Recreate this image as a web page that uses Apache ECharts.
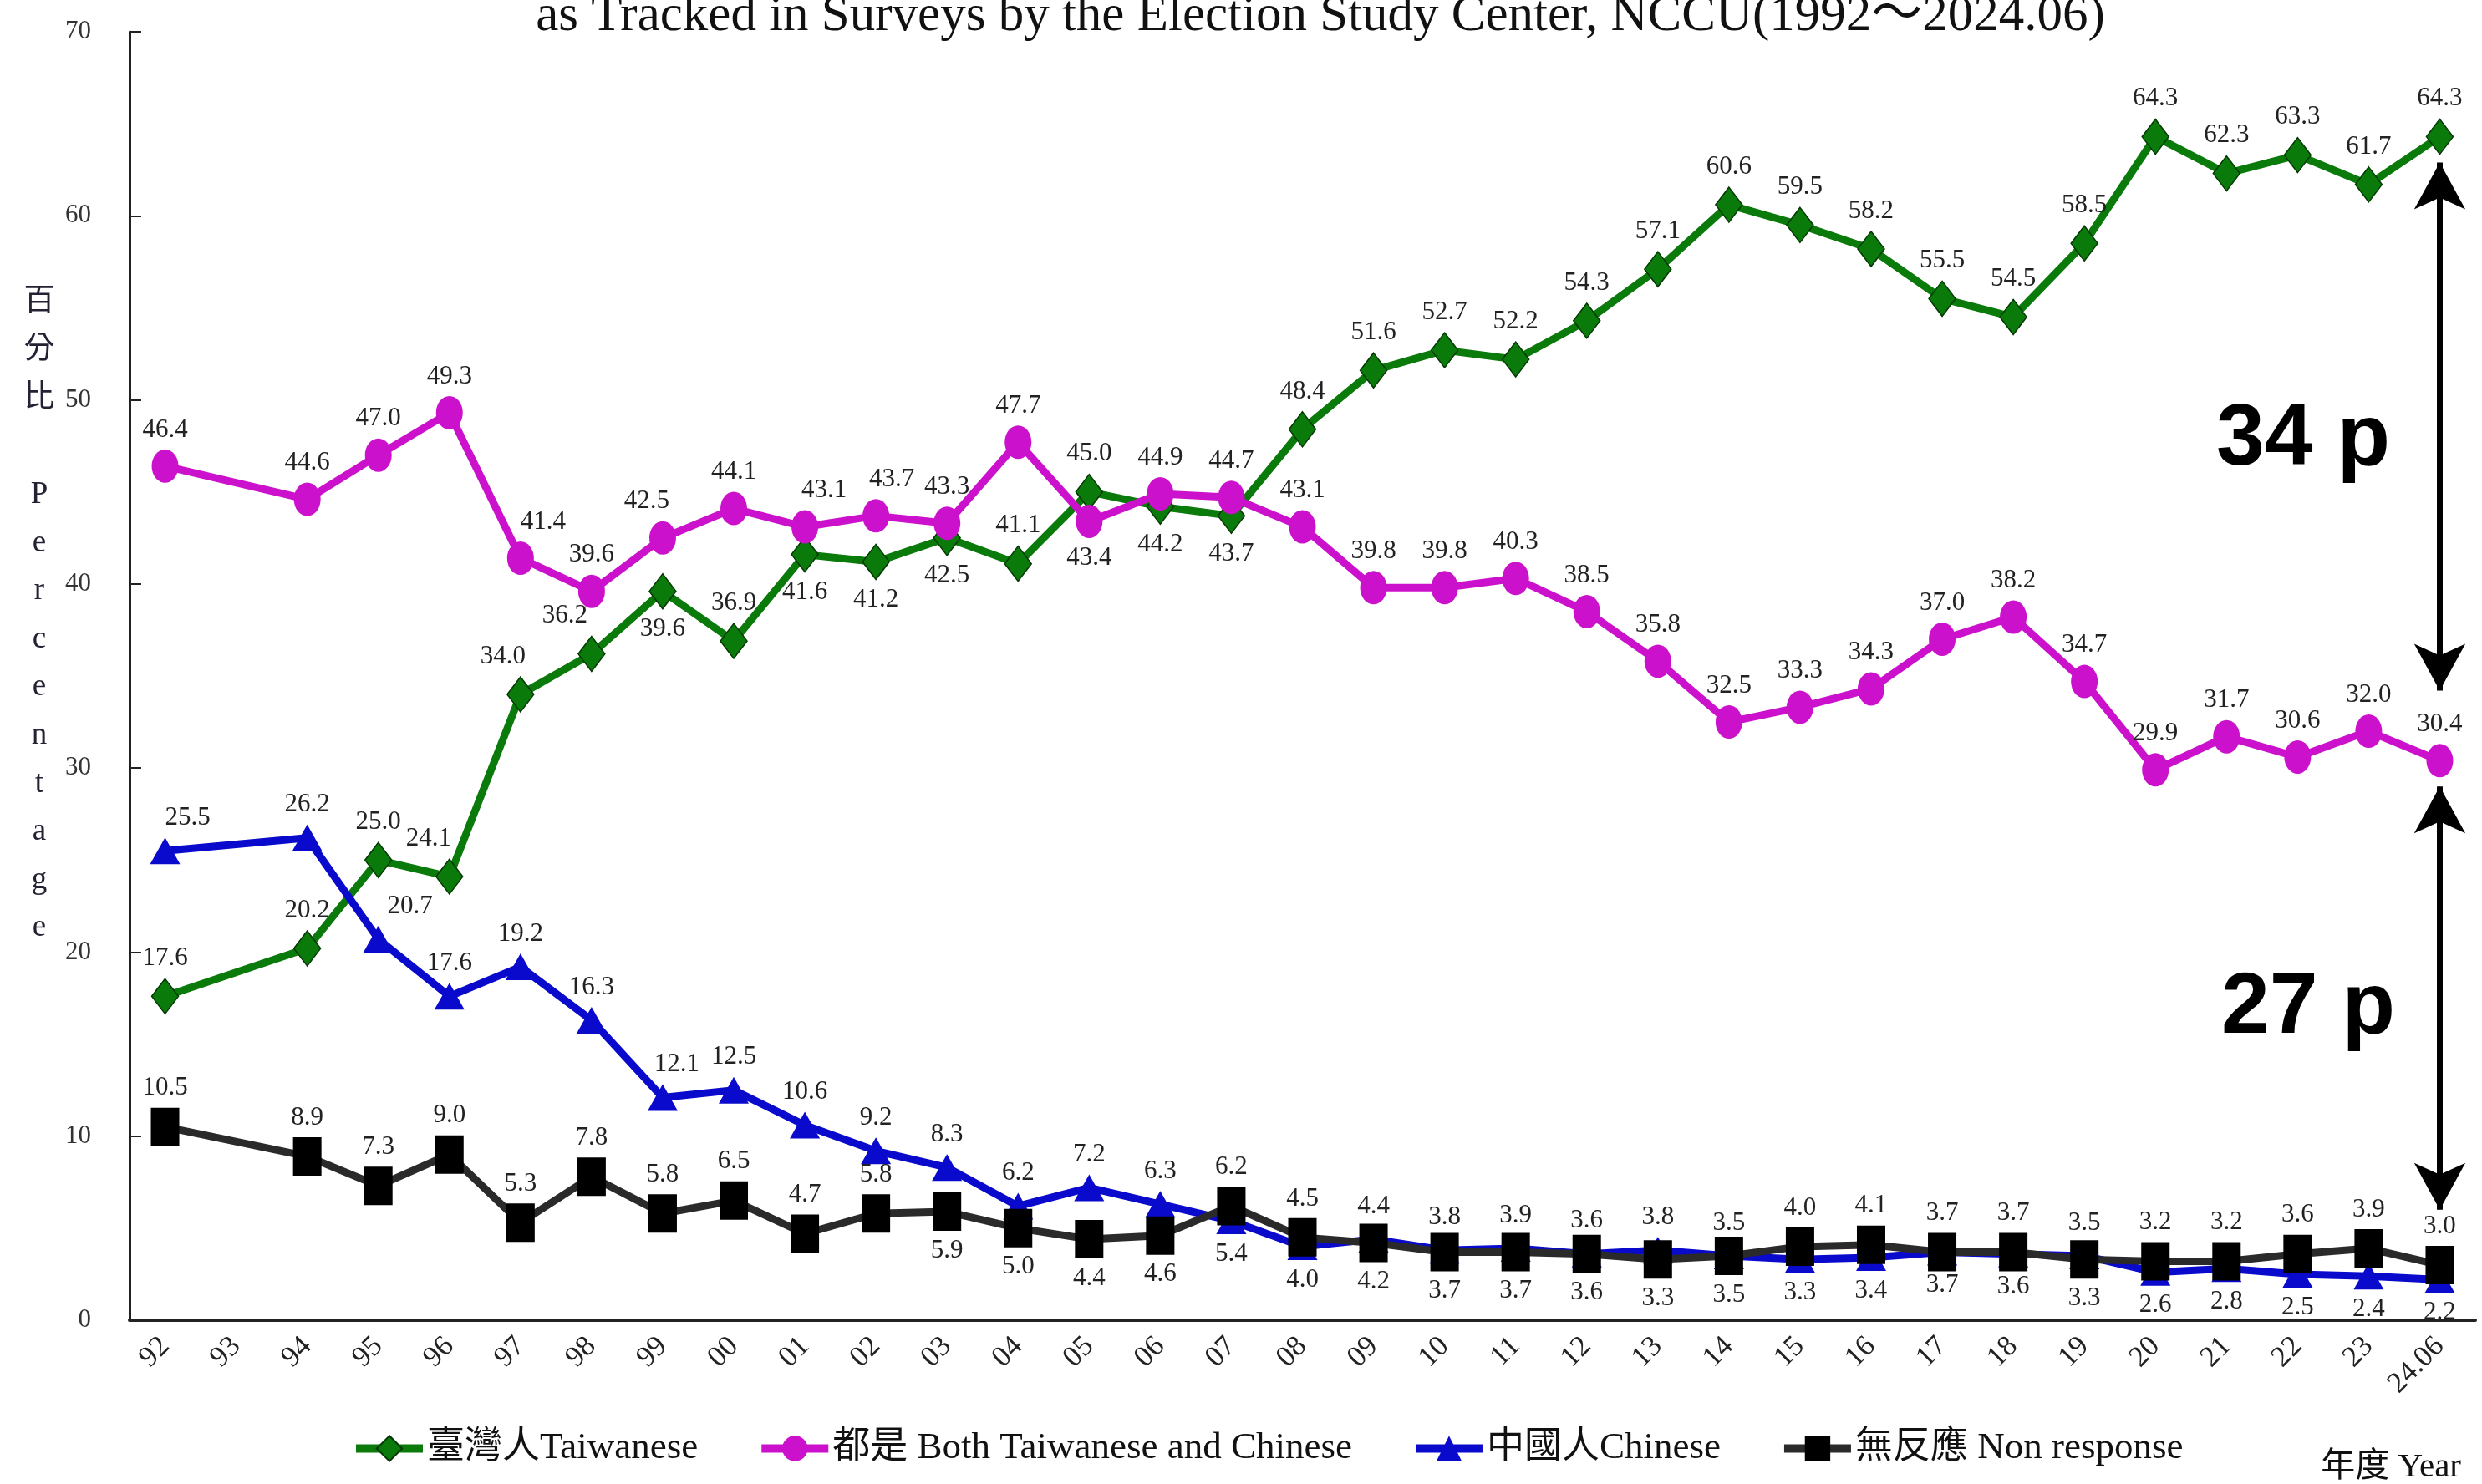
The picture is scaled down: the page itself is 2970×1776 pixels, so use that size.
<!DOCTYPE html>
<html>
<head>
<meta charset="utf-8">
<script src="https://cdn.jsdelivr.net/npm/echarts@6/dist/echarts.min.js"></script>
<style>
html,body{margin:0;padding:0;background:#fff;}
#chart{width:2970px;height:1776px;}
</style>
</head>
<body>
<div id="chart"></div>
<script>
const categories = ['92','93','94','95','96','97','98','99','00','01','02','03','04','05','06','07','08','09','10','11','12','13','14','15','16','17','18','19','20','21','22','23','24.06'];
const taiwanese = [17.6,null,20.2,25.0,24.1,34.0,36.2,39.6,36.9,41.6,41.2,42.5,41.1,45.0,44.2,43.7,48.4,51.6,52.7,52.2,54.3,57.1,60.6,59.5,58.2,55.5,54.5,58.5,64.3,62.3,63.3,61.7,64.3];
const both = [46.4,null,44.6,47.0,49.3,41.4,39.6,42.5,44.1,43.1,43.7,43.3,47.7,43.4,44.9,44.7,43.1,39.8,39.8,40.3,38.5,35.8,32.5,33.3,34.3,37.0,38.2,34.7,29.9,31.7,30.6,32.0,30.4];
const chinese = [25.5,null,26.2,20.7,17.6,19.2,16.3,12.1,12.5,10.6,9.2,8.3,6.2,7.2,6.3,5.4,4.0,4.4,3.8,3.9,3.6,3.8,3.5,3.3,3.4,3.7,3.6,3.5,2.6,2.8,2.5,2.4,2.2];
const nonResponse = [10.5,null,8.9,7.3,9.0,5.3,7.8,5.8,6.5,4.7,5.8,5.9,5.0,4.4,4.6,6.2,4.5,4.2,3.7,3.7,3.6,3.3,3.5,4.0,4.1,3.7,3.7,3.3,3.2,3.2,3.6,3.9,3.0];
const yTicks = [0,10,20,30,40,50,60,70];
const seriesNames = ['臺灣人Taiwanese','都是 Both Taiwanese and Chinese','中國人Chinese','無反應 Non response'];
// categories whose value label sits below the point
const twBelow = ['99','01','02','03','06','07'];
const bothBelow = ['05'];
const cnBelow = ['07','08','15','16','17','18','20','21','22','23','24.06'];
const nrBelow = ['03','04','05','06','09','10','11','12','13','14','19'];
// horizontal nudges of some value labels (style only)
const twShift = {'96': -25, '97': -21, '98': -32};
const bothShift = {'97': 27, '99': -19, '01': 23, '02': 19};
const cnShift = {'92': 27, '95': 38, '99': 17};
const nrShift = {};
// annotation arrows (value ranges on the last category)
const gapTop = [62.9, 34.2];
const gapBottom = [29.0, 6.0];
const gapLabels = ['34 p', '27 p'];

const serif = '"Liberation Serif","Times New Roman","Noto Sans CJK TC",serif';

function build(values, below, shift) {
  return values.map((v, i) => {
    if (v === null) return null;
    const c = categories[i];
    return {value: v, label: {position: below.indexOf(c) >= 0 ? 'bottom' : 'top', offset: [shift[c] || 0, 0]}};
  });
}

const labelCommon = {show: true, fontFamily: serif, fontSize: 31, color: '#222', distance: 8,
  formatter: p => p.value.toFixed(1)};

const chart = echarts.init(document.getElementById('chart'), null, {renderer: 'canvas'});
const option = {
  backgroundColor: '#fff',
  animation: false,
  grid: {left: 155, right: 8, top: 38, bottom: 196},
  xAxis: {
    type: 'category', data: categories, boundaryGap: true,
    axisLine: {lineStyle: {color: '#222', width: 4}},
    axisTick: {inside: true, length: 14, alignWithLabel: false, lineStyle: {color: '#222', width: 2}},
    axisLabel: {rotate: 45, interval: 0, fontFamily: serif, fontSize: 35, color: '#222', margin: 26}
  },
  yAxis: {
    type: 'value', min: 0, max: 70, interval: 10,
    splitLine: {show: false},
    axisLine: {show: true, lineStyle: {color: '#222', width: 3}},
    axisTick: {show: true, inside: true, length: 14, lineStyle: {color: '#222', width: 2}},
    axisLabel: {fontFamily: serif, fontSize: 31, color: '#333', margin: 46,
      formatter: v => yTicks.indexOf(v) >= 0 ? String(v) : ''}
  },
  legend: {
    left: 416, top: 1706, itemWidth: 80, itemHeight: 38, itemGap: 71,
    lineStyle: {width: 10},
    textStyle: {fontFamily: serif, fontSize: 45, color: '#111'},
    data: seriesNames
  },
  series: [
    {name: seriesNames[0], type: 'line', data: build(taiwanese, twBelow, twShift), connectNulls: true,
      symbol: 'diamond', symbolSize: [32, 42],
      lineStyle: {color: '#0a7a0a', width: 9},
      itemStyle: {color: '#0a7a0a', borderColor: '#033803', borderWidth: 1.5},
      label: labelCommon, z: 2,
      markLine: {silent: true, symbol: ['arrow', 'arrow'], symbolSize: [46, 56], animation: false,
        lineStyle: {color: '#000', width: 7, type: 'solid'}, label: {show: false},
        data: [
          [{coord: ['24.06', gapTop[0]]}, {coord: ['24.06', gapTop[1]]}],
          [{coord: ['24.06', gapBottom[0]]}, {coord: ['24.06', gapBottom[1]]}]
        ]}
    },
    {name: seriesNames[1], type: 'line', data: build(both, bothBelow, bothShift), connectNulls: true,
      symbol: 'circle', symbolSize: [32, 40],
      lineStyle: {color: '#cc11cc', width: 9},
      itemStyle: {color: '#cc11cc'},
      label: labelCommon, z: 3},
    {name: seriesNames[2], type: 'line', data: build(chinese, cnBelow, cnShift), connectNulls: true,
      symbol: 'triangle', symbolSize: [36, 32],
      lineStyle: {color: '#0a0acc', width: 9},
      itemStyle: {color: '#0a0acc'},
      label: labelCommon, z: 4},
    {name: seriesNames[3], type: 'line', data: build(nonResponse, nrBelow, nrShift), connectNulls: true,
      symbol: 'rect', symbolSize: [34, 46],
      lineStyle: {color: '#2a2a2a', width: 9},
      itemStyle: {color: '#000'},
      label: labelCommon, z: 5}
  ],
  graphic: [
    {type: 'text', x: 1580, y: 50, scaleX: 1.0, z: 10,
      style: {text: 'as Tracked in Surveys by the Election Study Center, NCCU(1992～2024.06)',
        x: 0, y: 0, align: 'center', verticalAlign: 'bottom',
        font: '61px ' + serif, fill: '#111'}},
    {type: 'text', x: 47, y: 333, z: 10,
      style: {text: ['百','分','比','','P','e','r','c','e','n','t','a','g','e'].join('\n'),
        x: 0, y: 0, align: 'center', verticalAlign: 'top', lineHeight: 57.6,
        font: '37px ' + serif, fill: '#223'}},
    {type: 'text', x: 2945, y: 1756, z: 10,
      style: {text: '年度 Year', x: 0, y: 0, align: 'right', verticalAlign: 'middle',
        font: '41px ' + serif, fill: '#111'}},
    {type: 'text', x: 2756, y: 527, z: 10,
      style: {text: gapLabels[0], x: 0, y: 0, align: 'center', verticalAlign: 'middle',
        font: 'bold 104px "Liberation Sans",Arial,sans-serif', fill: '#000'}},
    {type: 'text', x: 2762, y: 1207, z: 10,
      style: {text: gapLabels[1], x: 0, y: 0, align: 'center', verticalAlign: 'middle',
        font: 'bold 104px "Liberation Sans",Arial,sans-serif', fill: '#000'}}
  ]
};
chart.setOption(option);
</script>
</body>
</html>
